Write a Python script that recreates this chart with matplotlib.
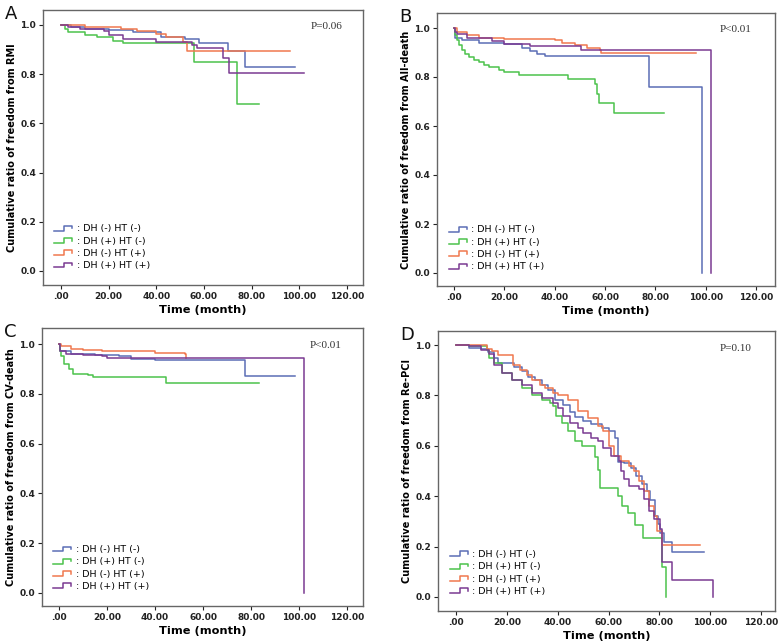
import matplotlib
matplotlib.use("Agg")
import matplotlib.pyplot as plt
from matplotlib.legend_handler import HandlerBase
from matplotlib.lines import Line2D

# ---------------- data ----------------
groups = ["DH (-) HT (-)", "DH (+) HT (-)", "DH (-) HT (+)", "DH (+) HT (+)"]
colors = ["#5b6db5", "#4cc24c", "#f0784e", "#7a3a92"]

xticks = [0, 20, 40, 60, 80, 100, 120]
xticklabels = [".00", "20.00", "40.00", "60.00", "80.00", "100.00", "120.00"]
yticks = [0.0, 0.2, 0.4, 0.6, 0.8, 1.0]

# Panel A : RMI
a_blue_t = [0, 4, 10, 20, 30, 42, 52, 57.9, 70.2, 77.4, 98.1]
a_blue_s = [1.0, 0.99, 0.985, 0.98, 0.97, 0.952, 0.942, 0.925, 0.896, 0.83, 0.83]
a_green_t = [0, 1.5, 3, 10, 15, 22, 26, 56, 74, 83.2]
a_green_s = [1.0, 0.985, 0.973, 0.96, 0.95, 0.936, 0.925, 0.851, 0.678, 0.678]
a_orange_t = [0, 10, 25, 32, 40, 44, 51, 52.7, 96]
a_orange_s = [1.0, 0.99, 0.985, 0.975, 0.965, 0.95, 0.93, 0.895, 0.895]
a_purple_t = [0, 3, 8, 18, 20, 26, 40, 55, 57, 67.8, 70.6, 101.9]
a_purple_s = [1.0, 0.99, 0.985, 0.975, 0.96, 0.945, 0.93, 0.92, 0.908, 0.864, 0.806, 0.806]

# Panel B : All-death
b_blue_t = [0, 0.5, 3, 10, 20, 27, 30, 33, 36, 77.4, 98.6, 98.6]
b_blue_s = [1.0, 0.96, 0.95, 0.94, 0.935, 0.92, 0.905, 0.895, 0.886, 0.759, 0.0, 0.0]
b_green_t = [0, 0.5, 1, 2, 3, 4.5, 6, 8, 10, 12, 14, 18, 20, 26, 45.3, 55.9, 57, 57.5, 63.6, 83.4]
b_green_s = [1.0, 0.97, 0.95, 0.93, 0.91, 0.895, 0.88, 0.87, 0.86, 0.85, 0.84, 0.83, 0.82, 0.81, 0.793, 0.77, 0.73, 0.695, 0.654, 0.654]
b_orange_t = [0, 1, 5, 10, 20, 40, 43, 48, 53, 58, 58.5, 96.2]
b_orange_s = [1.0, 0.985, 0.97, 0.96, 0.955, 0.95, 0.94, 0.93, 0.92, 0.91, 0.899, 0.899]
b_purple_t = [0, 0.5, 1, 5, 15, 20, 30, 50.3, 102.2, 102.2]
b_purple_s = [1.0, 0.985, 0.975, 0.96, 0.945, 0.935, 0.925, 0.912, 0.0, 0.0]

# Panel C : CV-death
c_blue_t = [0, 0.5, 5, 15, 25, 30, 40, 77.6, 98.5]
c_blue_s = [1.0, 0.97, 0.96, 0.955, 0.95, 0.94, 0.936, 0.871, 0.871]
c_green_t = [0, 0.5, 1, 2, 4, 6, 12, 14, 44.6, 83.2]
c_green_s = [1.0, 0.97, 0.95, 0.92, 0.9, 0.88, 0.875, 0.866, 0.845, 0.845]
c_orange_t = [0, 1, 5, 10, 18, 40, 52.6, 53]
c_orange_s = [1.0, 0.99, 0.98, 0.975, 0.97, 0.965, 0.958, 0.945]
c_purple_t = [0, 0.5, 3, 10, 18, 20, 35, 101.9, 101.9]
c_purple_s = [1.0, 0.97, 0.96, 0.955, 0.95, 0.945, 0.944, 0.0, 0.0]

# Panel D : Re-PCI
d_blue_t = [0, 5, 10, 12.7, 15, 16.7, 23, 26, 28.5, 31, 33.7, 36, 39, 42, 45, 46.8, 50, 53, 57.3, 60, 62.6, 63.9, 66, 69, 71, 73, 75, 76.5, 78.3, 79.5, 80.3, 82, 84.2, 85, 97.4]
d_blue_s = [1.0, 0.99, 0.985, 0.974, 0.95, 0.927, 0.914, 0.895, 0.874, 0.86, 0.841, 0.82, 0.782, 0.76, 0.735, 0.716, 0.70, 0.685, 0.67, 0.66, 0.63, 0.537, 0.53, 0.51, 0.48, 0.45, 0.42, 0.386, 0.32, 0.29, 0.254, 0.22, 0.22, 0.178, 0.178]
d_green_t = [0, 5, 12, 13, 15, 18, 22, 26, 30, 34, 37, 38, 39.5, 41.6, 44, 46.8, 49.4, 53.4, 54.7, 55.7, 56.7, 63.9, 65.5, 67.8, 70.4, 73.7, 80.3, 81, 82.6, 82.6]
d_green_s = [1.0, 0.995, 0.98, 0.95, 0.93, 0.89, 0.86, 0.83, 0.80, 0.78, 0.77, 0.756, 0.72, 0.69, 0.66, 0.62, 0.60, 0.60, 0.557, 0.505, 0.432, 0.40, 0.36, 0.333, 0.287, 0.234, 0.234, 0.12, 0.0, 0.0]
d_orange_t = [0, 12, 14, 16.5, 22.6, 25, 28, 30, 33, 35, 38, 40, 44, 48, 52, 56, 58, 60, 62, 65, 68, 70, 72, 74, 76, 78, 79, 81, 96]
d_orange_s = [1.0, 0.985, 0.975, 0.96, 0.92, 0.90, 0.88, 0.86, 0.84, 0.83, 0.81, 0.80, 0.78, 0.74, 0.71, 0.68, 0.66, 0.60, 0.56, 0.54, 0.52, 0.50, 0.46, 0.42, 0.36, 0.32, 0.26, 0.205, 0.205]
d_purple_t = [0, 5, 10, 13, 15, 18, 22, 26, 30, 34, 38, 40, 42, 45, 48, 50, 53, 56, 58, 61, 64, 65, 66, 68, 72, 74, 76, 78, 80.3, 81, 85, 101.2, 101.2]
d_purple_s = [1.0, 0.995, 0.98, 0.965, 0.92, 0.89, 0.86, 0.84, 0.81, 0.79, 0.77, 0.75, 0.72, 0.69, 0.67, 0.65, 0.63, 0.62, 0.59, 0.56, 0.54, 0.50, 0.47, 0.44, 0.43, 0.39, 0.34, 0.31, 0.27, 0.14, 0.068, 0.0, 0.0]

panels = [
    dict(letter="A", ylabel="Cumulative ratio of freedom from RMI", ptext="P=0.06",
         series=[(a_blue_t, a_blue_s), (a_green_t, a_green_s), (a_orange_t, a_orange_s), (a_purple_t, a_purple_s)],
         frame=(43, 10, 363, 285), xt=(61, 347), yt=(25, 271)),
    dict(letter="B", ylabel="Cumulative ratio of freedom from All-death", ptext="P<0.01",
         series=[(b_blue_t, b_blue_s), (b_green_t, b_green_s), (b_orange_t, b_orange_s), (b_purple_t, b_purple_s)],
         frame=(437, 13, 775, 286), xt=(454, 756), yt=(28, 273)),
    dict(letter="C", ylabel="Cumulative ratio of freedom from CV-death", ptext="P<0.01",
         series=[(c_blue_t, c_blue_s), (c_green_t, c_green_s), (c_orange_t, c_orange_s), (c_purple_t, c_purple_s)],
         frame=(42, 328, 363, 606), xt=(59, 347), yt=(344, 593)),
    dict(letter="D", ylabel="Cumulative ratio of freedom from Re-PCI", ptext="P=0.10",
         series=[(d_blue_t, d_blue_s), (d_green_t, d_green_s), (d_orange_t, d_orange_s), (d_purple_t, d_purple_s)],
         frame=(438, 331, 775, 611), xt=(456, 761), yt=(345, 597)),
]

W, H = 778, 644


class StepHandler(HandlerBase):
    def create_artists(self, legend, orig_handle, xdescent, ydescent, width, height, fontsize, trans):
        x0 = -xdescent
        y0 = -ydescent + height * 0.1
        y1 = -ydescent + height * 0.85
        xs = [x0, x0 + width * 0.55, x0 + width * 0.55, x0 + width, x0 + width]
        ys = [y0, y0, y1, y1, y0 + height * 0.35]
        ln = Line2D(xs, ys, color=orig_handle.get_color(), lw=1.1, transform=trans)
        return [ln]


fig = plt.figure(figsize=(W / 100, H / 100), dpi=100)
fig.patch.set_facecolor("white")

for p in panels:
    l, t, r, b = p["frame"]
    ax = fig.add_axes([l / W, 1 - b / H, (r - l) / W, (b - t) / H])
    x0px, x120px = p["xt"]
    y1px, y0px = p["yt"]
    ppm = (x120px - x0px) / 120.0
    ppu = (y0px - y1px) / 1.0
    ax.set_xlim((l - x0px) / ppm, (r - x0px) / ppm)
    ax.set_ylim(-(b - y0px) / ppu, 1 + (y1px - t) / ppu)

    handles = []
    for (ts, ss), c, g in zip(p["series"], colors, groups):
        ln, = ax.step(ts, ss, where="post", color=c, lw=1.1)
        handles.append(ln)

    ax.set_xticks(xticks)
    ax.set_xticklabels(xticklabels)
    ax.set_yticks(yticks)
    ax.set_yticklabels(["%.1f" % v for v in yticks])
    ax.tick_params(axis="both", direction="out", length=3, width=0.8, labelsize=6.5,
                   colors="#222222", pad=2)
    for lab in ax.get_xticklabels() + ax.get_yticklabels():
        lab.set_fontweight("bold")
    for s in ax.spines.values():
        s.set_color("#666666")
        s.set_linewidth(1.0)

    ax.set_xlabel("Time (month)", fontsize=8.2, fontweight="bold", labelpad=3)
    ax.set_ylabel(p["ylabel"], fontsize=7.0, fontweight="bold", labelpad=2.5)

    ax.text(0.835, 0.955, p["ptext"], transform=ax.transAxes, fontsize=8,
            family="Liberation Serif", color="#333333", va="top", ha="left")

    fig.text((l - 38) / W, 1 - (t + 4) / H, p["letter"], fontsize=13,
             ha="left", va="center", color="#111111")

    leg = ax.legend(handles, [": " + g for g in groups], handler_map={Line2D: StepHandler()},
                    loc="lower left", bbox_to_anchor=(0.015, 0.03), frameon=False,
                    fontsize=6.8, handlelength=1.9, handletextpad=0.5, labelspacing=0.35,
                    borderaxespad=0.3)

fig.savefig("out.png", dpi=100, facecolor="white")
